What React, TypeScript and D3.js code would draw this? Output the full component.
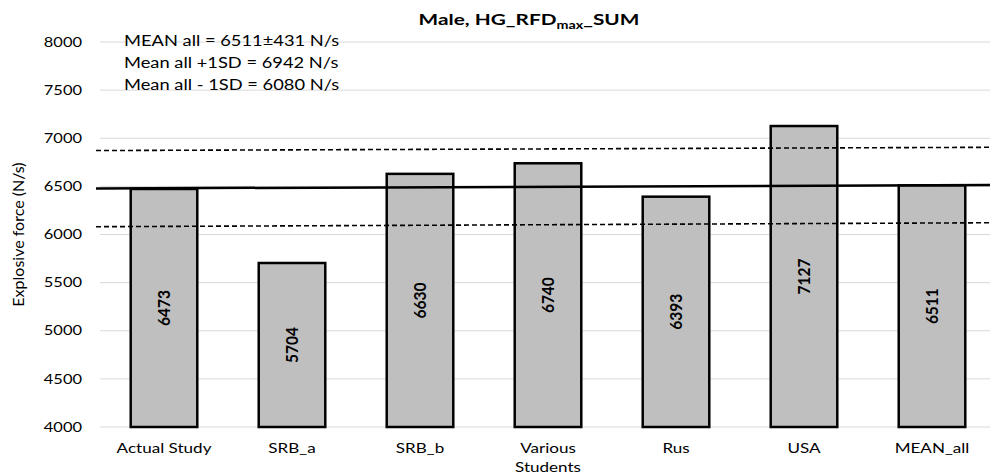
import { useEffect, useRef } from 'react';
import * as d3 from 'd3';

const CATEGORIES = ['Actual Study', 'SRB_a', 'SRB_b', 'Various Students', 'Rus', 'USA', 'MEAN_all'];
const VALUES = [6473, 5704, 6630, 6740, 6393, 7127, 6511];
const Y_TICKS = [4000, 4500, 5000, 5500, 6000, 6500, 7000, 7500, 8000];
// reference lines drawn by hand in the original, slightly tilted: value at left / right end
const REF_LINES = [
  { name: 'mean', from: 6478, to: 6514, dashed: false },
  { name: 'plus1sd', from: 6872, to: 6906, dashed: true },
  { name: 'minus1sd', from: 6081, to: 6122, dashed: true },
];
const NOTES = ['MEAN all = 6511±431 N/s', 'Mean all +1SD = 6942 N/s', 'Mean all - 1SD = 6080 N/s'];

const FONT = 'Lato, "Open Sans", sans-serif';
// the original's text is a little wider than Lato, so stretch it horizontally
const SX = 1.22;

export default function App() {
  const ref = useRef<SVGSVGElement>(null);

  useEffect(() => {
    if (!ref.current) return;
    const svg = d3.select(ref.current);
    svg.selectAll('*').remove();

    const width = 990;
    const height = 474;
    const margin = { top: 42, right: -6, bottom: 47, left: 100 };

    const x = d3.scaleBand<string>()
      .domain(CATEGORIES)
      .range([margin.left, width - margin.right])
      .paddingInner(0.48)
      .paddingOuter(0.24);
    const y = d3.scaleLinear().domain([4000, 8000]).range([height - margin.bottom, margin.top]);
    const cx = (c: string) => x(c)! + x.bandwidth() / 2;

    svg.attr('width', width).attr('height', height).style('font-family', FONT);

    // grid
    svg.append('g')
      .selectAll('line')
      .data(Y_TICKS)
      .join('line')
      .attr('x1', margin.left).attr('x2', width)
      .attr('y1', d => y(d)).attr('y2', d => y(d))
      .attr('stroke', '#d9d9d9').attr('stroke-width', 1);

    // y tick labels
    svg.append('g')
      .selectAll('text')
      .data(Y_TICKS)
      .join('text')
      .attr('transform', d => `translate(82,${y(d)}) scale(${SX},1)`)
      .attr('dy', '0.35em')
      .attr('text-anchor', 'end').attr('font-size', 13.5).attr('fill', '#000')
      .text(d => d);

    // y axis title
    svg.append('text')
      .attr('transform', `translate(18,${(y(4000) + y(8000)) / 2}) rotate(-90)`)
      .attr('text-anchor', 'middle').attr('dy', '0.35em')
      .attr('font-size', 16).text('Explosive force (N/s)');

    // bars
    svg.append('g')
      .selectAll('rect')
      .data(VALUES)
      .join('rect')
      .attr('x', (_, i) => x(CATEGORIES[i])!)
      .attr('width', x.bandwidth())
      .attr('y', d => y(d))
      .attr('height', d => y(4000) - y(d))
      .attr('fill', '#bfbfbf').attr('stroke', '#000').attr('stroke-width', 2.5);

    // reference lines
    const xl = d3.scaleLinear().domain([0, 1]).range([margin.left - 4, width]);
    REF_LINES.forEach(l => {
      svg.append('line')
        .attr('x1', xl(0)).attr('x2', xl(1))
        .attr('y1', y(l.from)).attr('y2', y(l.to))
        .attr('stroke', '#000')
        .attr('stroke-width', l.dashed ? 1.6 : 2.5)
        .attr('stroke-dasharray', l.dashed ? '5,3' : null);
    });

    // value labels
    svg.append('g')
      .selectAll('text')
      .data(VALUES)
      .join('text')
      .attr('transform', (d, i) =>
        `translate(${cx(CATEGORIES[i])},${(y(d) + y(4000)) / 2}) scale(1.15,1) rotate(-90)`)
      .attr('text-anchor', 'middle').attr('dy', '0.35em')
      .attr('font-size', 15.5).attr('font-weight', 'bold')
      .text(d => d);

    // x labels
    svg.append('g')
      .selectAll('g')
      .data(CATEGORIES)
      .join('g')
      .attr('transform', d => `translate(${cx(d)},${y(4000) + 26}) scale(${SX},1)`)
      .each(function (d) {
        const words = d === 'Various Students' ? ['Various', 'Students'] : [d];
        d3.select(this)
          .selectAll('text')
          .data(words)
          .join('text')
          .attr('y', (_, i) => i * 19)
          .attr('text-anchor', 'middle').attr('font-size', 14)
          .text(w => w);
      });

    // title
    const title = svg.append('text')
      .attr('transform', `translate(529,25) scale(1.3,1)`)
      .attr('text-anchor', 'middle').attr('font-size', 16).attr('font-weight', 'bold');
    title.append('tspan').text('Male, HG_RFD');
    title.append('tspan').attr('font-size', 11).attr('dy', 4).text('max');
    title.append('tspan').attr('dy', -4).text('_SUM');

    // notes
    svg.append('g')
      .selectAll('text')
      .data(NOTES)
      .join('text')
      .attr('transform', (_, i) => `translate(124,${46 + i * 22}) scale(${SX},1)`)
      .attr('font-size', 15).text(d => d);
  }, []);

  return (
    <svg ref={ref} style={{ position: 'absolute', left: 0, top: 0, background: '#fff' }} />
  );
}
